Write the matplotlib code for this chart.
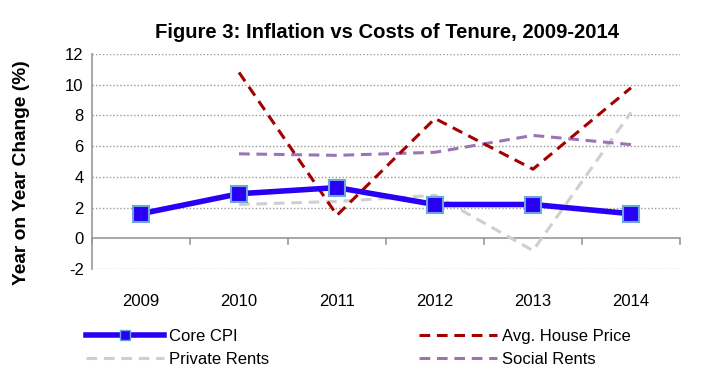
import matplotlib
matplotlib.use("Agg")
import matplotlib.pyplot as plt
from matplotlib.lines import Line2D

years = ['2009', '2010', '2011', '2012', '2013', '2014']
core_cpi = [1.6, 2.9, 3.3, 2.2, 2.2, 1.6]
house_price = [None, 10.8, 1.5, 7.8, 4.5, 9.8]
private_rents = [None, 2.2, 2.4, 2.8, -0.8, 8.2]
social_rents = [None, 5.5, 5.4, 5.6, 6.7, 6.1]
yticks = [-2, 0, 2, 4, 6, 8, 10, 12]

plt.rcParams['font.family'] = ['Liberation Sans', 'DejaVu Sans']

blue = '#2a00f5'
red = '#a30000'
grey = '#cfcfcf'
purple = '#9b74b8'


def pts(vals):
    xs = [i for i, v in enumerate(vals) if v is not None]
    return xs, [vals[i] for i in xs]


fig = plt.figure(figsize=(7.07, 3.69), dpi=100)
ax = fig.add_axes([92 / 707, 1 - 269 / 369, 588 / 707, 215 / 369])

ax.set_xlim(-0.5, 5.5)
ax.set_ylim(-2, 12)
ax.set_yticks(yticks)
ax.set_yticklabels([str(t) for t in yticks], fontsize=12)
for t in yticks:
    if t != 0:
        ax.axhline(t, color='#999999', lw=1, ls=(0, (1, 1.5)), zorder=0)
ax.axhline(0, color='#999999', lw=1.2, zorder=1)

# category boundary ticks hanging from the zero line
for b in range(7):
    ax.plot([b - 0.5, b - 0.5], [0, -0.35], color='#999999', lw=1.2, zorder=1,
            clip_on=False)

for s in ['top', 'right', 'bottom']:
    ax.spines[s].set_visible(False)
ax.spines['left'].set_color('#999999')
ax.spines['left'].set_linewidth(1.2)
ax.tick_params(axis='y', length=0, pad=6)
ax.tick_params(axis='x', length=0, pad=18)
ax.set_xticks(range(len(years)))
ax.set_xticklabels(years, fontsize=12)

dash = (0, (3.5, 2.2))
x, y = pts(private_rents)
ax.plot(x, y, color=grey, lw=2.2, ls=dash, zorder=2)
x, y = pts(social_rents)
ax.plot(x, y, color=purple, lw=2.2, ls=dash, zorder=2)
x, y = pts(house_price)
ax.plot(x, y, color=red, lw=2.2, ls=dash, zorder=3)
ax.plot(range(len(years)), core_cpi, color=blue, lw=4, marker='s',
        markersize=11, markerfacecolor=blue, markeredgecolor='#6aa8dc',
        markeredgewidth=1.5, zorder=4)

ax.set_ylabel('Year on Year Change (%)', fontsize=13.8, fontweight='bold')
ax.yaxis.set_label_coords(-0.105, 0.45)
fig.text(0.548, 1 - 32 / 369, 'Figure 3: Inflation vs Costs of Tenure, 2009-2014',
         ha='center', va='center', fontsize=14.6, fontweight='bold')

h_cpi = Line2D([], [], color=blue, lw=4, marker='s', markersize=7,
               markerfacecolor=blue, markeredgecolor='#6aa8dc')
h_priv = Line2D([], [], color=grey, lw=2.2, ls=dash)
h_house = Line2D([], [], color=red, lw=2.2, ls=dash)
h_soc = Line2D([], [], color=purple, lw=2.2, ls=dash)

kw = dict(frameon=False, fontsize=12, handlelength=4.7, handletextpad=0.3,
          labelspacing=0.45, loc='upper left', borderaxespad=0, borderpad=0)
leg1 = fig.legend([h_cpi, h_priv], ['Core CPI', 'Private Rents'],
                  bbox_to_anchor=(86 / 707, 1 - 329 / 369), **kw)
leg2 = fig.legend([h_house, h_soc], ['Avg. House Price', 'Social Rents'],
                  bbox_to_anchor=(419 / 707, 1 - 329 / 369), **kw)

fig.savefig('out.png', dpi=100)
